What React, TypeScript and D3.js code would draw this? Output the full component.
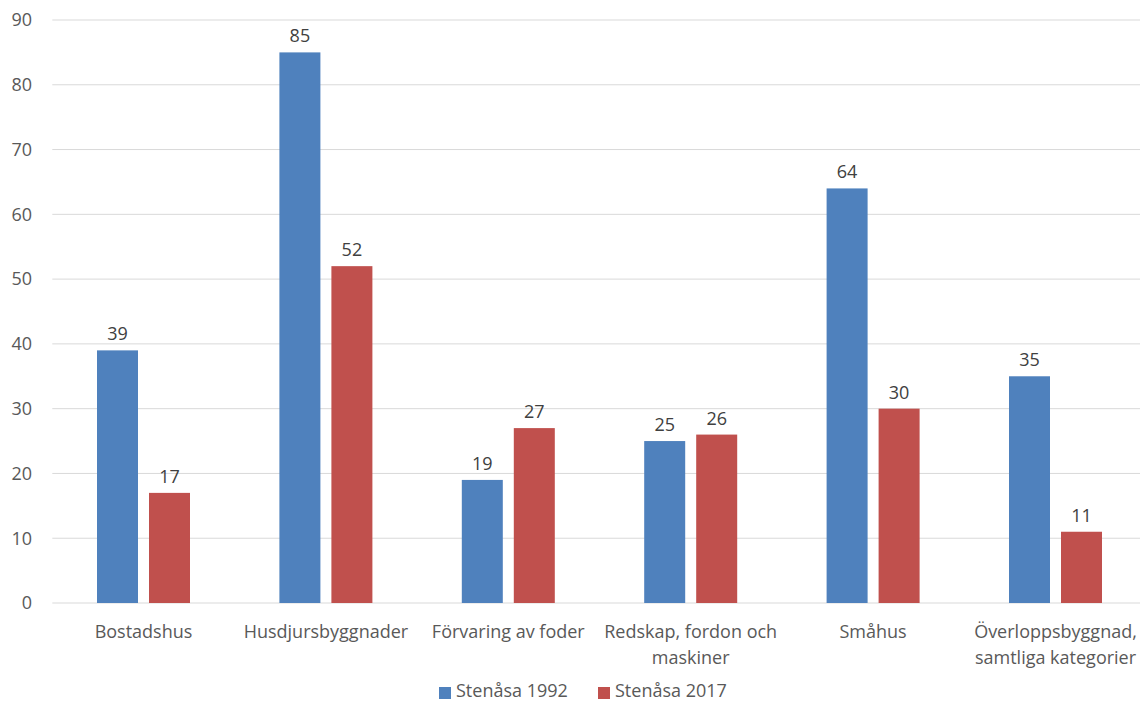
import React from "react";
import * as d3 from "d3";

const categories: string[][] = [
  ["Bostadshus"],
  ["Husdjursbyggnader"],
  ["Förvaring av foder"],
  ["Redskap, fordon och", "maskiner"],
  ["Småhus"],
  ["Överloppsbyggnad,", "samtliga kategorier"],
];
const series1992 = [39, 85, 19, 25, 64, 35];
const series2017 = [17, 52, 27, 26, 30, 11];
const seriesNames = ["Stenåsa 1992", "Stenåsa 2017"];
const colors = ["#4F81BD", "#C0504D"];
const yTicks = [0, 10, 20, 30, 40, 50, 60, 70, 80, 90];

const W = 1140;
const H = 701;
const left = 52.3;
const right = 1146.7;
const top = 20;
const bottom = 603;
const font = "'Open Sans', sans-serif";
const textColor = "#595959";
const fs = 18;

export default function App() {
  const y = d3.scaleLinear().domain([0, 90]).range([bottom, top]);
  const x = d3
    .scaleBand<number>()
    .domain(d3.range(categories.length))
    .range([left, right]);
  const bw = x.bandwidth();
  const barW = 41;
  const gap = 11;
  const data = [series1992, series2017];

  return (
    <svg
      width={W}
      height={H}
      style={{ position: "absolute", left: 0, top: 0, background: "#fff" }}
      fontFamily={font}
    >
      {yTicks.map((t) => (
        <g key={t}>
          <line x1={left} x2={W} y1={y(t)} y2={y(t)} stroke="#D9D9D9" strokeWidth={1} />
          <text x={32} y={y(t)} dy="0.35em" textAnchor="end" fontSize={fs} fill={textColor}>
            {t}
          </text>
        </g>
      ))}
      {categories.map((c, i) => {
        const cx = (x(i) as number) + bw / 2;
        return (
          <g key={i}>
            {data.map((s, j) => {
              const bx = j === 0 ? cx - gap / 2 - barW : cx + gap / 2;
              return (
                <g key={j}>
                  <rect
                    x={bx}
                    y={y(s[i])}
                    width={barW}
                    height={bottom - y(s[i])}
                    fill={colors[j]}
                  />
                  <text
                    x={bx + barW / 2}
                    y={y(s[i]) - 10}
                    textAnchor="middle"
                    fontSize={fs}
                    fill="#404040"
                  >
                    {s[i]}
                  </text>
                </g>
              );
            })}
            {c.map((line, k) => (
              <text
                key={k}
                x={cx}
                y={638 + k * 26}
                textAnchor="middle"
                fontSize={fs}
                fill={textColor}
              >
                {line}
              </text>
            ))}
          </g>
        );
      })}
      {seriesNames.map((n, j) => {
        const lx = j === 0 ? 439 : 598;
        return (
          <g key={n}>
            <rect x={lx} y={687} width={12} height={12} fill={colors[j]} />
            <text x={lx + 17} y={697} fontSize={fs} fill={textColor}>
              {n}
            </text>
          </g>
        );
      })}
    </svg>
  );
}
